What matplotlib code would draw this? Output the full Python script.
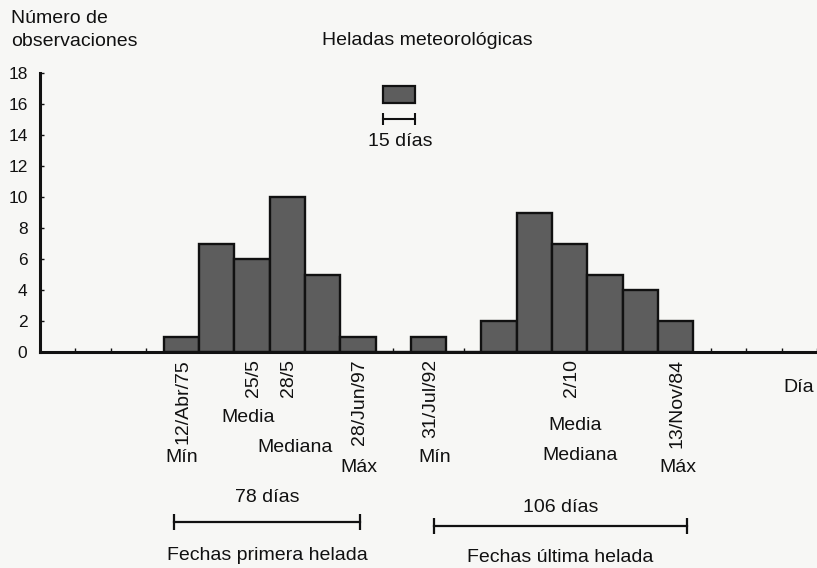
import matplotlib.pyplot as plt
import matplotlib.patches as patches
import matplotlib.transforms as transforms

plt.rcParams['font.family'] = ['Liberation Sans', 'DejaVu Sans']

# frecuencia por clase de 15 dias (clase 0 = primera clase con datos)
frecuencias = [1, 7, 6, 10, 5, 1, 0, 1, 0, 2, 9, 7, 5, 4, 2]
clase_inicial = 0

# fechas que se rotulan bajo el eje, con la clase en la que caen
fechas = ['12/Abr/75', '25/5', '28/5', '28/Jun/97', '31/Jul/92', '2/10', '13/Nov/84']
clase_fechas = [0, 2, 3, 5, 7, 11, 14]

amplitud_primera = 78
amplitud_ultima = 106
dias_clase = 15

W, H = 817, 568
fondo = '#f7f7f5'
fig = plt.figure(figsize=(W / 100, H / 100), dpi=100, facecolor=fondo)
ax = fig.add_axes([40 / W, 1 - 352 / H, 1 - 40 / W, (352 - 73) / H])
ax.set_facecolor(fondo)

def fy(py):
    return 1 - py / H

tinta = '#111111'
gris = '#5d5d5d'
fs = 14

izq = [clase_inicial + i for i in range(len(frecuencias))]
ax.bar(izq, frecuencias, width=1, align='edge', color=gris,
       edgecolor=tinta, linewidth=1.7, zorder=2)

ax.set_xlim(-3.47, 18.29)
ax.set_ylim(0, 18)
ax.set_yticks(range(0, 19, 2))
ax.set_xticks([k + 0.5 for k in range(-4, 19)])
ax.set_xticklabels([])
ax.tick_params(axis='y', direction='in', length=3, width=1, pad=9,
               labelsize=12.5, colors=tinta)
ax.tick_params(axis='x', direction='in', length=3, width=1, colors=tinta)
for lado in ['top', 'right']:
    ax.spines[lado].set_visible(False)
for lado in ['left', 'bottom']:
    ax.spines[lado].set_linewidth(2.2)
    ax.spines[lado].set_color(tinta)
    ax.spines[lado].set_zorder(3)

trans = transforms.blended_transform_factory(ax.transData, fig.transFigure)

# rotulos de fechas verticales
for f, c in zip(fechas, clase_fechas):
    ax.text(c + 0.55, fy(359), f, rotation=90, ha='center', va='top',
            fontsize=fs, color=tinta, transform=trans)

# estadisticos
etiquetas = [('Mín', 0.5, 458), ('Media', 2.38, 417), ('Mediana', 3.73, 447),
             ('Máx', 5.52, 467), ('Mín', 7.68, 457), ('Media', 11.65, 425),
             ('Mediana', 11.8, 455), ('Máx', 14.57, 467)]
for txt, x, py in etiquetas:
    ax.text(x, fy(py), txt, ha='center', va='center', fontsize=fs,
            color=tinta, transform=trans)

# amplitud de cada periodo
for x0, x1, py, pt, texto, pl, leyenda in [
        (0.3, 5.57, 522, 498, f'{amplitud_primera} días', 555, 'Fechas primera helada'),
        (7.65, 14.82, 526, 507, f'{amplitud_ultima} días', 558, 'Fechas última helada')]:
    ax.plot([x0, x1], [fy(py), fy(py)], color=tinta, lw=1.6, marker='|',
            markersize=11, markeredgewidth=1.6, transform=trans, clip_on=False)
    ax.text((x0 + x1) / 2, fy(pt), texto, ha='center', va='center',
            fontsize=fs, color=tinta, transform=trans)
    ax.text((x0 + x1) / 2, fy(pl), leyenda, ha='center', va='center',
            fontsize=fs, color=tinta, transform=trans)

# leyenda: una barra = 15 dias
x_ley = 6.2
ax.add_patch(patches.Rectangle((x_ley, fy(103)), 0.93, (103 - 86) / H,
                               facecolor=gris, edgecolor=tinta, lw=1.6,
                               transform=trans, clip_on=False))
ax.plot([x_ley, x_ley + 0.93], [fy(119), fy(119)], color=tinta, lw=1.5,
        marker='|', markersize=9, markeredgewidth=1.5, transform=trans,
        clip_on=False)
ax.text(x_ley + 0.5, fy(142), f'{dias_clase} días', ha='center',
        va='center', fontsize=fs, color=tinta, transform=trans)

fig.text(11 / W, fy(23), 'Número de', fontsize=fs, color=tinta, va='baseline')
fig.text(11 / W, fy(46), 'observaciones', fontsize=fs, color=tinta, va='baseline')
fig.text(322 / W, fy(45), 'Heladas meteorológicas', fontsize=fs, color=tinta,
         va='baseline')
fig.text(814 / W, fy(388), 'Día', fontsize=fs, color=tinta, ha='right',
         va='center')

fig.savefig('out.png', dpi=100, facecolor=fig.get_facecolor())
